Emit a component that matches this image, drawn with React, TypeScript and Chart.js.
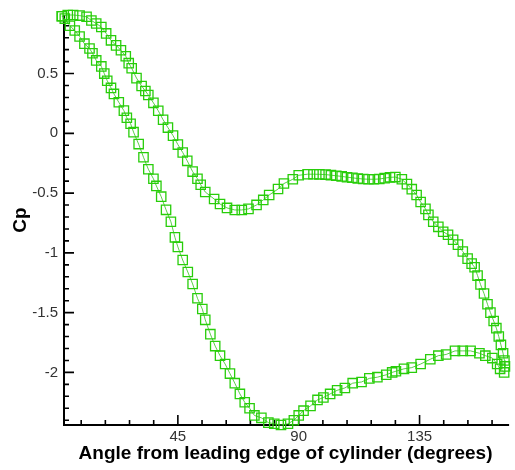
import React, { useEffect, useRef } from 'react';
import { Chart, registerables } from 'chart.js';

Chart.register(...registerables);

// Branch A: lower curve (steep fall to the -2.44 minimum, then recovery)
const BRANCH_A_DEG = [1.8, 2.9, 4.8, 6.6, 8.4, 10.2, 12.1, 13.2, 14.6, 16.5, 17.6, 18.7, 20.1, 21.2, 23.0, 24.9, 26.0, 27.4, 28.5, 30.4, 32.2, 34.0, 35.9, 37.0, 38.8, 40.6, 42.4, 43.9, 45.0, 46.8, 48.7, 50.5, 52.3, 54.1, 55.2, 57.1, 58.9, 60.7, 62.6, 64.4, 66.2, 68.1, 69.9, 71.7, 73.5, 76.1, 78.7, 80.9, 83.4, 86.0, 88.2, 90.0, 91.8, 94.4, 97.0, 99.2, 101.7, 104.3, 107.2, 110.1, 113.4, 116.3, 119.3, 122.6, 124.8, 126.2, 129.2, 132.1, 135.4, 139.0, 142.0, 144.9, 148.2, 151.1, 154.0, 157.3, 159.5, 162.1, 163.9, 165.0, 166.5];
const BRANCH_A_CP = [0.98, 0.96, 0.90, 0.86, 0.81, 0.75, 0.71, 0.67, 0.61, 0.56, 0.50, 0.44, 0.38, 0.33, 0.26, 0.19, 0.13, 0.08, 0.01, -0.09, -0.20, -0.30, -0.38, -0.44, -0.53, -0.64, -0.74, -0.87, -0.95, -1.06, -1.16, -1.26, -1.38, -1.47, -1.56, -1.68, -1.78, -1.86, -1.93, -2.01, -2.09, -2.18, -2.25, -2.30, -2.36, -2.38, -2.42, -2.43, -2.44, -2.43, -2.40, -2.36, -2.32, -2.28, -2.23, -2.21, -2.18, -2.15, -2.13, -2.09, -2.08, -2.05, -2.04, -2.02, -2.00, -1.99, -1.97, -1.96, -1.93, -1.89, -1.86, -1.85, -1.82, -1.82, -1.82, -1.84, -1.86, -1.88, -1.93, -1.97, -2.00];

// Branch B: upper curve (dip to -0.64, plateau near -0.35, then fall)
const BRANCH_B_DEG = [1.8, 4.0, 6.0, 8.4, 11.0, 12.8, 14.6, 16.5, 18.3, 20.1, 22.0, 23.8, 25.6, 26.7, 27.8, 29.6, 31.5, 32.9, 34.0, 35.9, 37.7, 39.5, 41.3, 43.2, 45.0, 46.8, 48.5, 50.5, 52.3, 53.5, 55.2, 58.5, 60.7, 63.3, 66.2, 68.8, 71.3, 74.3, 76.8, 79.0, 82.3, 84.5, 87.8, 90.0, 93.3, 95.5, 97.7, 100.0, 102.0, 104.0, 106.0, 108.0, 110.0, 112.0, 114.0, 116.0, 118.0, 120.0, 122.0, 124.0, 126.0, 128.4, 130.3, 132.1, 133.9, 135.4, 137.2, 138.3, 140.1, 142.0, 143.8, 145.6, 147.5, 149.3, 151.1, 152.9, 154.4, 155.5, 156.6, 157.7, 159.0, 160.3, 161.4, 162.6, 163.6, 164.5, 165.3, 166.1, 166.6, 166.8];
const BRANCH_B_CP = [0.98, 0.99, 0.99, 0.985, 0.975, 0.944, 0.919, 0.89, 0.836, 0.778, 0.736, 0.695, 0.645, 0.587, 0.545, 0.462, 0.396, 0.354, 0.321, 0.255, 0.189, 0.114, 0.048, -0.019, -0.094, -0.16, -0.23, -0.32, -0.38, -0.43, -0.491, -0.549, -0.591, -0.624, -0.641, -0.641, -0.632, -0.599, -0.557, -0.516, -0.466, -0.42, -0.384, -0.351, -0.342, -0.342, -0.343, -0.345, -0.35, -0.355, -0.36, -0.367, -0.372, -0.378, -0.382, -0.384, -0.384, -0.382, -0.375, -0.368, -0.366, -0.384, -0.425, -0.467, -0.516, -0.574, -0.632, -0.682, -0.74, -0.782, -0.823, -0.848, -0.89, -0.931, -0.989, -1.048, -1.09, -1.12, -1.19, -1.264, -1.34, -1.43, -1.50, -1.57, -1.63, -1.70, -1.77, -1.84, -1.90, -1.95];

const X_MAJOR_TICKS = [45, 90, 135];
const Y_MAJOR_TICKS = [-2, -1.5, -1, -0.5, 0, 0.5];
const X_MINOR_STEP = 9;
const Y_MINOR_STEP = 0.1;
const X_RANGE = [2.6, 167.6];
const Y_RANGE = [-2.44, 0.99];

const X_TITLE = 'Angle from leading edge of cylinder (degrees)';
const Y_TITLE = 'Cp';

const FONT = '"Liberation Sans", Arial, Helvetica, sans-serif';
const MARK_COLOR = 'rgb(40, 205, 10)';
const LINE_COLOR = 'rgba(60, 200, 40, 0.85)';

const axesPlugin = {
  id: 'tecplotAxes',
  beforeDatasetsDraw(chart: any) {
    const { ctx, chartArea, scales } = chart;
    const { left, right, top, bottom } = chartArea;
    const xs = scales.x;
    const ys = scales.y;
    ctx.save();
    ctx.strokeStyle = '#000';
    ctx.lineWidth = 2;
    ctx.beginPath();
    ctx.moveTo(left, top);
    ctx.lineTo(left, bottom);
    ctx.lineTo(right + 2, bottom);
    ctx.stroke();

    ctx.lineWidth = 1.6;
    ctx.beginPath();
    const yStart = Math.ceil(ys.min / Y_MINOR_STEP - 1e-6);
    const yEnd = Math.floor(ys.max / Y_MINOR_STEP + 1e-6);
    for (let i = yStart; i <= yEnd; i++) {
      const v = i * Y_MINOR_STEP;
      const major = Y_MAJOR_TICKS.some((m) => Math.abs(m - v) < 1e-6);
      const p = ys.getPixelForValue(v);
      ctx.moveTo(left, p);
      ctx.lineTo(left + (major ? 10 : 5), p);
    }
    const xStart = Math.ceil(xs.min / X_MINOR_STEP - 1e-6);
    const xEnd = Math.floor(xs.max / X_MINOR_STEP + 1e-6);
    for (let i = xStart; i <= xEnd; i++) {
      const v = i * X_MINOR_STEP;
      const major = X_MAJOR_TICKS.some((m) => Math.abs(m - v) < 1e-6);
      const p = xs.getPixelForValue(v);
      ctx.moveTo(p, bottom);
      ctx.lineTo(p, bottom - (major ? 10 : 5));
    }
    ctx.stroke();
    ctx.restore();
  },
};

export default function App() {
  const ref = useRef<HTMLCanvasElement>(null);

  useEffect(() => {
    const canvas = ref.current;
    if (!canvas) return;
    const pts = (xs: number[], ys: number[]) => xs.map((x, i) => ({ x, y: ys[i] }));
    const ds = (data: any[]) => ({
      data,
      showLine: true,
      borderColor: LINE_COLOR,
      borderWidth: 1,
      tension: 0,
      fill: false,
      pointStyle: 'rect',
      pointRadius: 6.6,
      pointBorderWidth: 1.3,
      pointBorderColor: MARK_COLOR,
      pointBackgroundColor: 'rgba(0,0,0,0)',
      clip: false,
    });

    const chart = new Chart(canvas, {
      type: 'line',
      data: {
        datasets: [ds(pts(BRANCH_A_DEG, BRANCH_A_CP)), ds(pts(BRANCH_B_DEG, BRANCH_B_CP))] as any,
      },
      options: {
        responsive: false,
        animation: false,
        events: [],
        layout: { padding: { top: 12, left: 0, right: 0, bottom: 0 } },
        plugins: {
          legend: { display: false },
          tooltip: { enabled: false },
        },
        scales: {
          x: {
            type: 'linear',
            min: X_RANGE[0],
            max: X_RANGE[1],
            afterBuildTicks: (s: any) => {
              s.ticks = X_MAJOR_TICKS.map((v) => ({ value: v }));
            },
            afterFit: (s: any) => {
              s.height = 45;
            },
            grid: { display: false, drawTicks: false },
            border: { display: false },
            ticks: {
              padding: 3,
              autoSkip: false,
              maxRotation: 0,
              color: '#333',
              font: { family: FONT, size: 15 },
              callback: (v: any) => String(v),
            },
            title: {
              display: true,
              text: X_TITLE,
              color: '#000',
              font: { family: FONT, size: 19, weight: 'bold' },
              padding: { top: 0, bottom: 5 },
            },
          },
          y: {
            type: 'linear',
            min: Y_RANGE[0],
            max: Y_RANGE[1],
            afterBuildTicks: (s: any) => {
              s.ticks = Y_MAJOR_TICKS.map((v) => ({ value: v }));
            },
            afterFit: (s: any) => {
              s.width = 64;
            },
            grid: { display: false, drawTicks: false },
            border: { display: false },
            ticks: {
              padding: 6,
              autoSkip: false,
              color: '#333',
              font: { family: FONT, size: 15 },
              callback: (v: any) => String(v),
            },
            title: {
              display: true,
              text: Y_TITLE,
              color: '#000',
              font: { family: FONT, size: 19, weight: 'bold' },
              padding: { top: 9, bottom: 0 },
            },
          },
        },
      } as any,
      plugins: [axesPlugin],
    });
    return () => chart.destroy();
  }, []);

  return (
    <div style={{ position: 'absolute', left: 0, top: 0, width: 515, height: 470, overflow: 'hidden', background: '#fff' }}>
      <canvas ref={ref} width={515} height={470} style={{ display: 'block' }} />
    </div>
  );
}
